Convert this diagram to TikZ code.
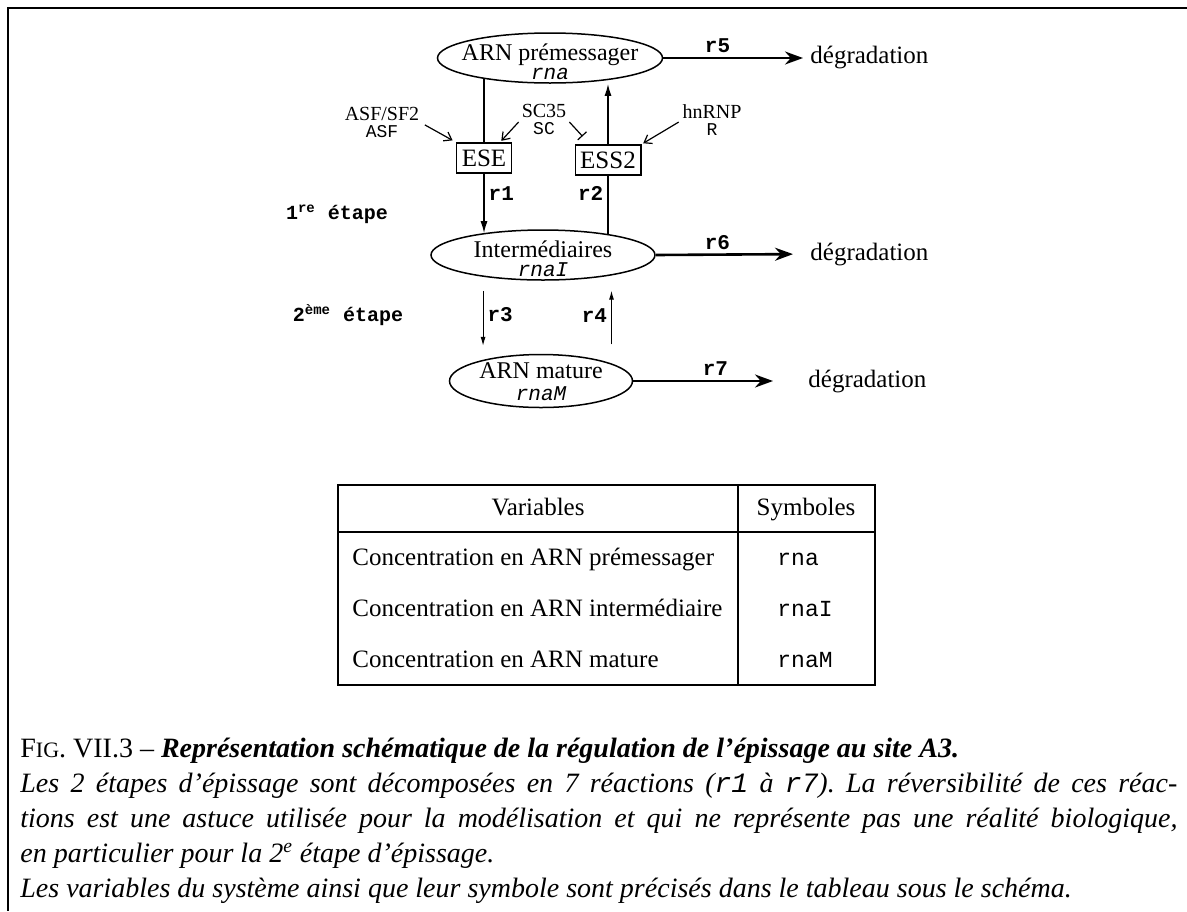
\documentclass[tikz,border=0pt]{standalone}
\usepackage{fontspec}
\setmainfont{Liberation Serif}
\setmonofont{Liberation Mono}
\usepackage{tikz}
\usetikzlibrary{shapes.geometric, arrows.meta, positioning, calc}
\tolerance=9999
\frenchspacing
\tikzset{
  etat/.style={ellipse, draw, line width=0.75pt, inner sep=0pt},
  etiq/.style={align=center, inner sep=0pt, font=\fontsize{12}{9.5}\selectfont},
  motif/.style={rectangle, draw, line width=0.7pt, inner sep=2.5pt,
    minimum height=15pt, font=\fontsize{12.5}{14}\selectfont},
  facteur/.style={align=center, inner sep=0pt, font=\fontsize{10}{8.5}\selectfont},
  rlbl/.style={font=\ttfamily\bfseries\fontsize{10.5}{12}\selectfont, inner sep=2pt},
  etape/.style={font=\ttfamily\bfseries\fontsize{10}{12}\selectfont, inner sep=0pt},
  deg/.style={anchor=west, inner sep=0pt, font=\fontsize{12.5}{14}\selectfont},
  flux/.style={-{Stealth[length=9pt,width=6.5pt]}, line width=1.3pt},
  react/.style={line width=0.7pt},
  fleche/.style={-{Latex[length=6pt,width=3.5pt]}, line width=0.7pt},
  fine/.style={-{Latex[length=4.5pt,width=2.5pt]}, line width=0.5pt},
  reg/.style={-{Straight Barb[length=3.5pt,width=5pt]}, line width=0.6pt},
  inhib/.style={-{Bar[width=6pt]}, line width=0.6pt},
  cell/.style={anchor=base, inner sep=0pt, font=\fontsize{12.5}{14}\selectfont},
  symb/.style={anchor=base west, inner sep=0pt, font=\ttfamily\fontsize{11.5}{14}\selectfont},
  tab/.style={line width=0.9pt},
  legende/.style={text width=578.5pt, align=justify, inner sep=0pt,
    font=\itshape\fontsize{14}{17.5}\selectfont},
}
\newcommand{\varsym}[1]{{\ttfamily\itshape\fontsize{10.5}{9.5}\selectfont #1}}

\begin{document}
\begin{tikzpicture}[x=0.5pt, y=-0.5pt]
  \useasboundingbox (0,0) rectangle (1187,911);

  % Frame
  \draw[line width=1pt] (1187,8) -- (8,8) -- (8,911);

  % RNA states
  \node[etat, minimum width=112.5pt, minimum height=25pt] (pre) at (550,58) {};
  \node[etiq] (pre-t) at ([yshift=-2pt]pre.center) {ARN prémessager\\\varsym{rna}};
  \node[etat, minimum width=112pt, minimum height=25pt] (interm) at (543,255) {};
  \node[etiq] (interm-t) at ([yshift=-2pt]interm.center) {Intermédiaires\\\varsym{rnaI}};
  \node[etat, minimum width=91.5pt, minimum height=26.5pt] (mature) at (541,381) {};
  \node[etiq, font=\fontsize{12}{11}\selectfont] (mature-t) at ([yshift=-0.5pt]mature.center)
    {ARN mature\\{\ttfamily\itshape\fontsize{10.5}{11}\selectfont rnaM}};

  % Splicing motifs
  \node[motif] (ese) at (484,158) {ESE};
  \node[motif] (ess) at (608,160) {ESS2};

  % Regulators
  \node[facteur] (asf) at (382,122) {ASF/SF2\\{\ttfamily\fontsize{9}{8.5}\selectfont ASF}};
  \node[facteur] (sc) at (544,119) {SC35\\{\ttfamily\fontsize{9}{8.5}\selectfont SC}};
  \node[facteur] (hnrnp) at (712,120) {hnRNP\\{\ttfamily\fontsize{9}{8.5}\selectfont R}};

  % Steps
  \node[etape] (etape1) at (337,214) {1\textsuperscript{re} étape};
  \node[etape] (etape2) at (348,315) {2\textsuperscript{ème} étape};

  % Degradation
  \node[deg] (deg5) at (810,58) {dégradation};
  \node[deg] (deg6) at (810,254) {dégradation};
  \node[deg] (deg7) at (808,381) {dégradation};

  % Regulation arrows
  \draw[reg, shorten <=3pt, shorten >=2pt] (asf.east) -- (ese.north west);
  \draw[reg, shorten <=2pt, shorten >=1pt] (sc.west) -- ([xshift=-6pt]ese.north east);
  \draw[inhib, shorten <=2pt] (sc.east) -- ([xshift=4pt,yshift=4pt]ess.north west);
  \draw[reg, shorten <=2pt, shorten >=1pt] (hnrnp.west) -- (ess.north east);

  % First step
  \draw[react] (ese.north) -- (ese.north |- pre.197);
  \draw[fleche] (ese.south) -- (ese.south |- interm.160)
    node[rlbl, pos=.33, right] {r1};
  \draw[react] (ess.south |- interm.17) -- (ess.south)
    node[rlbl, pos=.7, left] {r2};
  \draw[fleche, shorten >=2pt] (ess.north) -- (ess.north |- pre.340);

  % Second step
  \draw[fine, shorten <=7pt, shorten >=7pt] (interm.200) -- (interm.200 |- mature.160)
    node[rlbl, pos=.46, right] {r3};
  \draw[fine, shorten <=9.5pt, shorten >=7.5pt] (mature.14) -- (mature.14 |- interm.343)
    node[rlbl, pos=.55, left] {r4};

  % Degradation arrows
  \draw[flux, shorten >=3.5pt] (pre.east) -- (deg5.west)
    node[rlbl, pos=.37, above] {r5};
  \draw[flux, shorten >=8.5pt] (interm.east) -- (deg6.west)
    node[rlbl, pos=.40, above] {r6};
  \draw[flux, shorten >=17.5pt] (mature.east) -- (deg7.west)
    node[rlbl, pos=.47, above] {r7};

  % Table
  \draw[tab] (338,485) rectangle (875,685);
  \draw[tab] (338,532) -- (875,532);
  \draw[tab] (738,485) -- (738,685);
  \node[cell] (hvar) at (538,515) {Variables};
  \node[cell] (hsym) at (806,515) {Symboles};
  \node[cell, anchor=base west] (var1) at (352,565) {Concentration en ARN prémessager};
  \node[cell, anchor=base west] (var2) at (352,616) {Concentration en ARN intermédiaire};
  \node[cell, anchor=base west] (var3) at (352,667) {Concentration en ARN mature};
  \node[symb] (sym1) at (777,565) {rna};
  \node[symb] (sym2) at (777,616) {rnaI};
  \node[symb] (sym3) at (777,667) {rnaM};

  % Caption
  \node[legende, anchor=north west] (leg) at (20,738) {%
    {\upshape F{\fontsize{11}{17.5}\selectfont IG}. VII.3 –} \textbf{Représentation schématique de la régulation de l’épissage au site A3.}\\
    Les 2 étapes d’épissage sont décomposées en 7 réactions (\texttt{r1} à \texttt{r7}). La réversibilité de ces réac-\linebreak
    tions est une astuce utilisée pour la modélisation et qui ne représente pas une réalité biologique,\linebreak
    en particulier pour la 2\textsuperscript{e} étape d’épissage.\\
    Les variables du système ainsi que leur symbole sont précisés dans le tableau sous le schéma.};

\end{tikzpicture}
\end{document}
